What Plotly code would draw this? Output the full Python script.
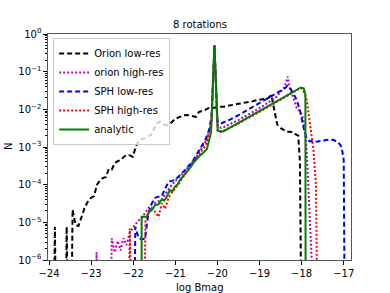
import plotly.graph_objects as go

# ---------------- data ----------------
ZERO = 1e-12  # empty bins (clipped below the log axis)

x_orion_lo = [-23.93, -23.86, -23.79, -23.65, -23.58, -23.51, -23.44, -23.37, -23.30, -23.22,
              -23.15, -23.08, -23.00, -22.93, -22.86, -22.79, -22.72, -22.65, -22.58, -22.51,
              -22.44, -22.37, -22.30, -22.22, -22.15, -22.08, -22.01, -21.94, -21.87, -21.80,
              -21.72, -21.65, -21.58, -21.51, -21.44, -21.36, -21.29, -21.22, -21.15, -21.08,
              -21.01, -20.94, -20.86, -20.79, -20.72, -20.65, -20.58, -20.51, -20.44, -20.37,
              -20.30, -20.22, -20.15, -20.08, -20.00, -19.94, -19.86, -19.79, -19.72, -19.65,
              -19.58, -19.50, -19.43, -19.36, -19.29, -19.22, -19.15, -19.08, -19.00, -18.93,
              -18.86, -18.79, -18.72, -18.65, -18.58, -18.50, -18.43, -18.36, -18.29, -18.22,
              -18.15, -18.08, -18.04, -18.00, -17.97]
n_orion_lo = [ZERO, 7.6e-6, ZERO, ZERO, 7.6e-6, ZERO, 2.2e-5, 8.5e-6, 8.0e-6, 1.6e-5,
              2.5e-5, 3.5e-5, 4.5e-5, 5.0e-5, 1.0e-4, 1.3e-4, 1.5e-4, 1.6e-4, 2.6e-4, 2.5e-4,
              3.7e-4, 4.2e-4, 4.5e-4, 5.5e-4, 6.2e-4, 6.0e-4, 5.5e-4, 1.0e-3, 1.5e-3, 1.6e-3,
              1.7e-3, 1.9e-3, 2.1e-3, 3.0e-3, 4.2e-3, 4.7e-3, 4.0e-3, 3.8e-3, 4.0e-3, 4.6e-3,
              5.5e-3, 6.0e-3, 6.5e-3, 7.0e-3, 7.1e-3, 6.8e-3, 6.3e-3, 6.3e-3, 8.5e-3, 8.8e-3,
              9.5e-3, 1.07e-2, 1.05e-2, 1.1e-2, 1.15e-2, 1.17e-2, 1.17e-2, 1.2e-2, 1.25e-2, 1.3e-2,
              1.35e-2, 1.4e-2, 1.45e-2, 1.5e-2, 1.5e-2, 1.6e-2, 1.65e-2, 1.75e-2, 1.78e-2, 1.85e-2,
              1.95e-2, 2.0e-2, 2.4e-2, 1.0e-2, 4.0e-3, 3.2e-3, 2.8e-3, 2.55e-3, 2.55e-3, 2.5e-3,
              2.2e-3, 2.0e-3, 4.0e-4, 1.6e-5, ZERO]

x_orion_hi = [-22.94, -22.87, -22.80, -22.58, -22.51, -22.44, -22.37, -22.30, -22.23, -22.16,
              -22.09, -22.02, -21.95, -21.88, -21.80, -21.72, -21.64, -21.56, -21.48, -21.40,
              -21.32, -21.24, -21.16, -21.08, -21.00, -20.92, -20.84, -20.76, -20.68, -20.60,
              -20.52, -20.44, -20.36, -20.28, -20.20, -20.14, -20.07, -20.00, -19.92, -19.84,
              -19.50, -19.00, -18.60, -18.40, -18.33, -18.28, -18.20, -18.12, -18.04, -17.96,
              -17.92, -17.88, -17.76, -17.72]
n_orion_hi = [ZERO, 1.6e-6, ZERO, ZERO, 3.8e-6, 1.6e-6, 3.2e-6, 1.8e-6, 3.8e-6, 2.5e-6,
              5.0e-6, 7.0e-6, 8.9e-6, 1.1e-5, 1.3e-5, 1.8e-5, 2.4e-5, 3.0e-5, 3.3e-5, 3.8e-5,
              4.0e-5, 5.6e-5, 7.6e-5, 1.0e-4, 1.26e-4, 1.6e-4, 1.9e-4, 2.4e-4, 3.0e-4, 3.8e-4,
              5.0e-4, 7.1e-4, 1.0e-3, 1.4e-3, 2.5e-3, 5.0e-3, 0.48, 4.0e-3, 3.2e-3, 3.4e-3,
              5.2e-3, 1.07e-2, 2.1e-2, 4.0e-2, 7.4e-2, 3.5e-2, 2.1e-2, 1.1e-2, 8.9e-3, 5.6e-3,
              2.5e-3, 8.3e-4, 1.0e-6, 3.0e-8]

x_sph_lo = [-22.02, -21.95, -21.87, -21.80, -21.72, -21.64, -21.56, -21.48, -21.40, -21.32,
            -21.24, -21.16, -21.08, -21.00, -20.92, -20.84, -20.76, -20.68, -20.60, -20.52,
            -20.44, -20.36, -20.28, -20.20, -20.14, -20.07, -20.00, -19.92, -19.84, -19.76,
            -19.68, -19.60, -19.52, -19.44, -19.36, -19.28, -19.20, -19.12, -19.04, -18.96,
            -18.88, -18.80, -18.72, -18.64, -18.56, -18.48, -18.40, -18.34, -18.28, -18.20,
            -18.12, -18.04, -17.96, -17.88, -17.80, -17.72, -17.64, -17.56, -17.48, -17.40,
            -17.33, -17.25, -17.17, -17.10, -17.05, -17.00, -16.97, -16.95]
n_sph_lo = [ZERO, 7.6e-6, 3.8e-6, 3.6e-6, 3.6e-6, 1.7e-5, 3.2e-5, 4.5e-5, 4.8e-5, 5.0e-5,
            7.9e-5, 1.2e-4, 1.26e-4, 1.35e-4, 1.66e-4, 2.0e-4, 2.5e-4, 3.2e-4, 4.0e-4, 5.6e-4,
            7.9e-4, 1.1e-3, 1.6e-3, 2.8e-3, 6.3e-3, 0.50, 5.0e-3, 4.2e-3, 4.5e-3, 5.0e-3,
            5.5e-3, 6.0e-3, 6.8e-3, 7.6e-3, 8.7e-3, 9.8e-3, 1.1e-2, 1.23e-2, 1.38e-2, 1.58e-2,
            1.78e-2, 2.0e-2, 2.24e-2, 2.5e-2, 2.8e-2, 3.2e-2, 3.6e-2, 4.2e-2, 3.8e-2, 2.7e-2,
            1.8e-2, 9.5e-3, 3.5e-3, 1.66e-3, 1.4e-3, 1.48e-3, 1.38e-3, 1.45e-3, 1.5e-3, 1.58e-3,
            1.58e-3, 1.55e-3, 1.4e-3, 1.2e-3, 1.0e-3, 4.5e-4, 2.5e-5, ZERO]

x_sph_hi = [-22.16, -22.08, -22.00, -21.78, -21.71, -21.64, -21.56, -21.48, -21.40, -21.32,
            -21.24, -21.16, -21.08, -21.00, -20.92, -20.84, -20.76, -20.68, -20.60, -20.52,
            -20.44, -20.36, -20.28, -20.20, -20.14, -20.07, -20.00, -19.92, -19.50, -19.00,
            -18.50, -18.08, -18.00, -17.94, -17.88, -17.80, -17.72, -17.66, -17.60, -17.58]
n_sph_hi = [ZERO, 6.9e-6, ZERO, ZERO, 1.07e-5, 1.9e-5, 2.4e-5, 1.9e-5, 1.4e-5, 3.2e-5,
            2.3e-5, 4.5e-5, 6.3e-5, 7.9e-5, 1.05e-4, 1.4e-4, 1.9e-4, 2.5e-4, 3.5e-4, 4.7e-4,
            6.3e-4, 8.3e-4, 1.1e-3, 2.2e-3, 5.0e-3, 0.50, 2.8e-3, 2.5e-3, 4.2e-3, 8.5e-3,
            1.78e-2, 3.4e-2, 3.6e-2, 2.8e-2, 1.78e-2, 3.5e-3, 8.9e-4, 1.0e-4, 8.0e-7, ZERO]

x_analytic = [-21.80, -21.80, -21.68, -21.62, -21.56, -21.48, -21.40, -21.32, -21.26, -21.20,
              -21.13, -21.07, -21.01, -20.95, -20.89, -20.81, -20.73, -20.65, -20.57, -20.49,
              -20.41, -20.33, -20.25, -20.15, -20.07, -19.99, -19.86, -19.50, -19.00, -18.50,
              -18.02, -17.95, -17.91, -17.90]
n_analytic = [ZERO, 1.4e-5, 1.4e-5, 1.9e-5, 2.1e-5, 2.9e-5, 3.0e-5, 4.1e-5, 3.8e-5, 4.8e-5,
              7.2e-5, 6.6e-5, 8.9e-5, 1.0e-4, 1.32e-4, 1.66e-4, 2.2e-4, 2.8e-4, 3.8e-4, 4.8e-4,
              6.0e-4, 7.1e-4, 8.9e-4, 2.5e-3, 0.51, 2.7e-3, 2.6e-3, 4.4e-3, 8.9e-3, 1.86e-2,
              3.8e-2, 3.6e-2, 2.5e-2, ZERO]

x_ticks = [-24, -23, -22, -21, -20, -19, -18, -17]
x_ticktext = ["\u221224", "\u221223", "\u221222", "\u221221", "\u221220", "\u221219", "\u221218", "\u221217"]
y_ticks = [1e-6, 1e-5, 1e-4, 1e-3, 1e-2, 1e-1, 1e0]
y_ticktext = ["10<sup>\u22126</sup>", "10<sup>\u22125</sup>", "10<sup>\u22124</sup>", "10<sup>\u22123</sup>",
              "10<sup>\u22122</sup>", "10<sup>\u22121</sup>", "10<sup>0</sup>"]

title_text = "8 rotations"
x_label = "log Bmag"
y_label = "N"

series = [
    ("Orion low-res", x_orion_lo, n_orion_lo, "black", "5px,3px"),
    ("orion high-res", x_orion_hi, n_orion_hi, "#bf00bf", "2px,2px"),
    ("SPH low-res", x_sph_lo, n_sph_lo, "blue", "5px,3px"),
    ("SPH high-res", x_sph_hi, n_sph_hi, "red", "2px,2px"),
    ("analytic", x_analytic, n_analytic, "green", "solid"),
]

fig = go.Figure()
for name, xs, ys, col, dash in series:
    fig.add_trace(go.Scatter(x=xs, y=ys, mode="lines", name=name,
                             line=dict(color=col, width=2, dash=dash)))

FONT = "DejaVu Sans"
FRAME = "#555555"
fig.update_layout(
    width=390, height=293,
    margin=dict(l=48, r=39, t=34, b=33),
    paper_bgcolor="white", plot_bgcolor="white",
    font=dict(family=FONT, size=10, color="black"),
    legend=dict(x=0.017, y=0.982, xanchor="left", yanchor="top",
                bgcolor="rgba(255,255,255,0.8)", bordercolor="#cccccc", borderwidth=1,
                font=dict(family=FONT, size=10, color="black"), itemwidth=30,
                tracegroupgap=0),
    showlegend=True,
    annotations=[
        dict(text=title_text, xref="paper", yref="paper", x=0.5, y=1,
             xanchor="center", yanchor="bottom", yshift=2, showarrow=False,
             font=dict(family=FONT, size=10, color="black")),
        dict(text=x_label, xref="paper", yref="paper", x=0.5, y=0,
             xanchor="center", yanchor="middle", yshift=-27, showarrow=False,
             font=dict(family=FONT, size=10, color="black")),
        dict(text=y_label, xref="paper", yref="paper", x=0, y=0.5,
             xanchor="center", yanchor="middle", xshift=-40, textangle=-90, showarrow=False,
             font=dict(family=FONT, size=10, color="black")),
    ],
)
fig.update_xaxes(range=[-24.024, -16.827], tickvals=x_ticks, ticktext=x_ticktext,
                 showline=True, linecolor=FRAME, linewidth=1.3, mirror=True,
                 ticks="outside", ticklen=3.5, tickwidth=0.8, tickcolor="black",
                 showgrid=False, zeroline=False)
fig.update_yaxes(type="log", range=[-6, 0], tickvals=y_ticks, ticktext=y_ticktext,
                 showline=True, linecolor=FRAME, linewidth=1.3, mirror=True,
                 ticks="outside", ticklen=3.5, tickwidth=0.8, tickcolor="black",
                 showgrid=False, zeroline=False,
                 minor=dict(ticks="outside", ticklen=2, tickwidth=0.6, tickcolor="black",
                            dtick="D1", showgrid=False))

fig.write_html("out.html",
               config={"displayModeBar": False},
               post_script="document.body.style.margin='0px';document.body.style.overflow='hidden';")
